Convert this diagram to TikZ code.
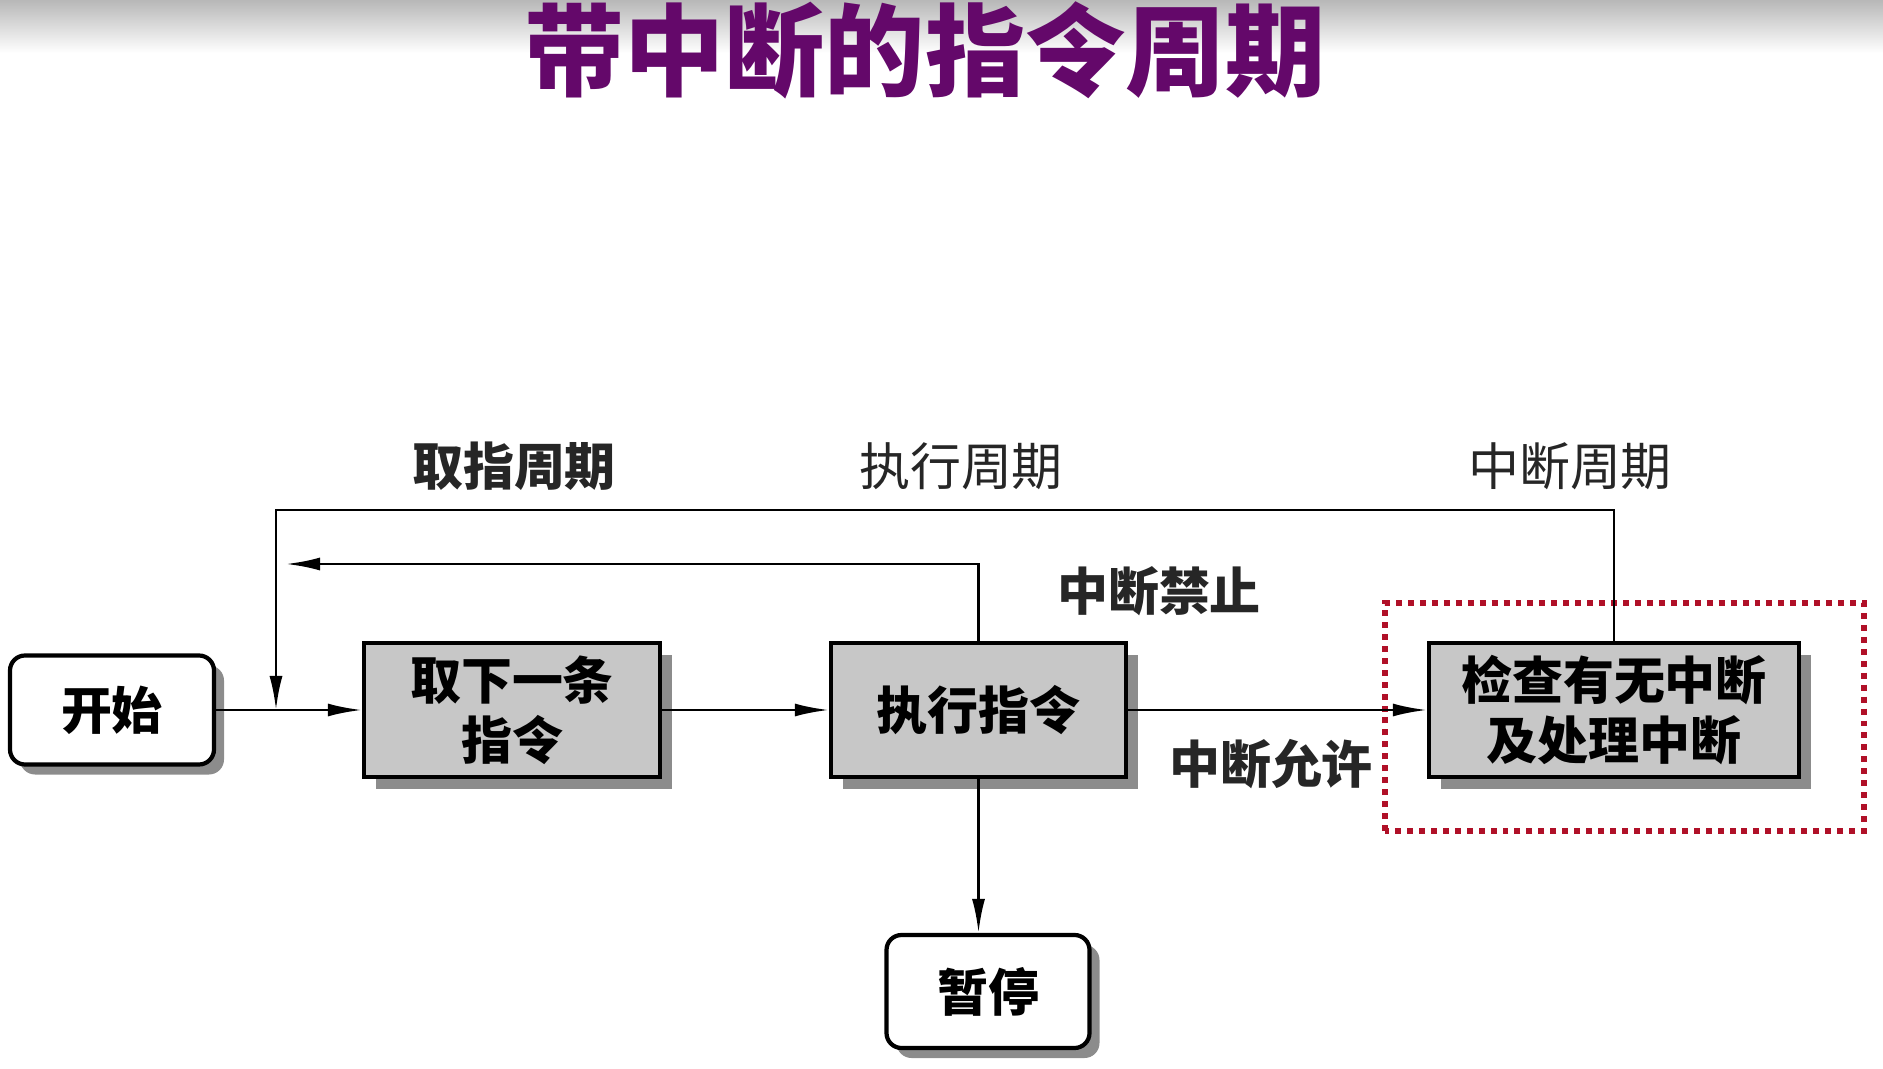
\documentclass[tikz,border=0pt]{standalone}
\usepackage{fontspec}
\setmainfont{Noto Sans CJK SC}
\usepackage{tikz}
\usetikzlibrary{arrows.meta, positioning, calc, shadows}
\definecolor{titlepurple}{RGB}{100,8,106}
\definecolor{markred}{RGB}{176,16,40}

\begin{document}
\begin{tikzpicture}[thick, >={Latex[length=0.34cm,width=0.13cm]}, every node/.style={inner sep=2pt},
    stepbox/.style={draw, line width=1.2pt, rectangle, fill=black!22, minimum height=1.34cm,
        align=center, font=\fontsize{14.5}{17}\selectfont\bfseries,
        drop shadow={shadow xshift=0.12cm, shadow yshift=-0.12cm, fill=black!45, opacity=1}},
    endbox/.style={draw, line width=1.2pt, rectangle, rounded corners=0.15cm, fill=white,
        font=\fontsize{14.5}{17}\selectfont\bfseries,
        drop shadow={shadow xshift=0.1cm, shadow yshift=-0.1cm, fill=black!45, opacity=1}},
    cyclelabel/.style={font=\fontsize{14.5}{17}\selectfont, text=black!85},
    flow/.style={->, line width=0.8pt}]
    \useasboundingbox (0,0) rectangle (18.83,10.68);

    % Slide header
    \shade[top color=black!28, bottom color=white] (0,10.15) rectangle (18.83,10.68);
    \node[text=titlepurple, font=\fontsize{28.5}{32}\selectfont\bfseries] (title) at (9.25,10.18) {带中断的指令周期};

    % Main row (y=3.58)
    \node[endbox, minimum width=2.04cm, minimum height=1.09cm] (start) at (1.12,3.58) {开始};
    \node[stepbox, minimum width=2.96cm] (fetch) at (5.12,3.58) {取下一条\\指令};
    \node[stepbox, minimum width=2.95cm] (exec) at (9.785,3.58) {执行指令};
    \node[stepbox, minimum width=3.70cm] (check) at (16.14,3.58) {检查有无中断\\及处理中断};
    \node[endbox, minimum width=2.03cm, minimum height=1.13cm] (halt) at (9.88,0.765) {暂停};

    % Cycle names and branch labels
    \node[cyclelabel, font=\fontsize{14.5}{17}\selectfont\bfseries] (fetchcycle) at (5.14,6.02) {取指周期};
    \node[cyclelabel] (execcycle) at (9.61,6.02) {执行周期};
    \node[cyclelabel] (intcycle) at (15.70,6.02) {中断周期};
    \node[cyclelabel, font=\fontsize{14.5}{17}\selectfont\bfseries] (intoff) at (11.59,4.77) {中断禁止};
    \node[cyclelabel, font=\fontsize{14.5}{17}\selectfont\bfseries] (inton) at (12.71,3.04) {中断允许};

    % Marked interrupt step (red dotted)
    \draw[markred, line width=1.5pt, dash pattern=on 1.7pt off 1.7pt] (13.85,2.37) rectangle (18.64,4.65);

    % Loop points
    \coordinate (merge) at (2.76,3.58);
    \coordinate (loopcorner) at (2.76,5.58);
    \coordinate (backin) at (2.86,5.04);

    % Forward arrows
    \draw[flow] (start) -- (fetch);
    \draw[flow] (fetch) -- (exec);
    \draw[flow] (exec) -- (check);
    \draw[flow] (exec.south) -- (exec.south |- halt.north);

    % Back to fetch
    \draw[flow] (check.north) |- (loopcorner) -- (merge);
    \draw[flow] (exec.north) |- (backin);
\end{tikzpicture}
\end{document}
